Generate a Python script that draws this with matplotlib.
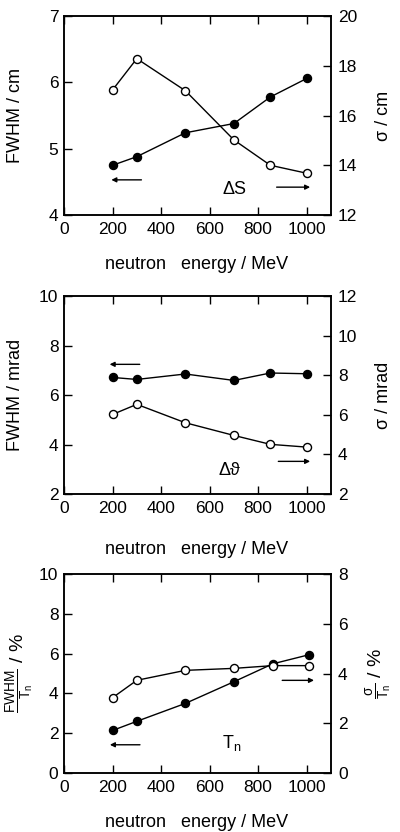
import matplotlib
matplotlib.use('Agg')
import matplotlib.pyplot as plt

plt.rcParams['font.family'] = ['Liberation Sans', 'DejaVu Sans']
plt.rcParams['mathtext.fontset'] = 'custom'
plt.rcParams['mathtext.rm'] = 'Liberation Sans'
plt.rcParams['mathtext.it'] = 'Liberation Sans'

# ---- data ----
energy = [200, 300, 500, 700, 850, 1000]
energy_tn = [200, 300, 500, 700, 860, 1010]

ds_fwhm = [4.75, 4.88, 5.24, 5.38, 5.78, 6.06]
ds_sigma = [17.03, 18.29, 17.0, 15.02, 14.0, 13.68]

dth_fwhm = [6.71, 6.63, 6.85, 6.59, 6.89, 6.86]
dth_sigma = [6.02, 6.53, 5.60, 4.96, 4.51, 4.37]

tn_fwhm = [2.14, 2.60, 3.50, 4.59, 5.49, 5.95]
tn_sigma = [3.03, 3.73, 4.13, 4.21, 4.32, 4.32]

x_ticks = [0, 200, 400, 600, 800, 1000]

FS = 12.5
LFS = 13

fig = plt.figure(figsize=(4.0, 8.32), dpi=100)

panels = [
    dict(rect=[0.16, 0.7416, 0.6675, 0.239], x=energy, fwhm=ds_fwhm, sig=ds_sigma,
         ylim=(4, 7), yticks=[4, 5, 6, 7], ylim2=(12, 20), yticks2=[12, 14, 16, 18, 20],
         ylab='FWHM / cm', ylab2='σ / cm', yfs=LFS, lx=-0.18, rx=1.195,
         name='ΔS', name_xy=(704, 4.38),
         larrow=((319, 4.53), (195, 4.53)), rarrow=((876, 4.42), (1014, 4.42)),
         xlab_y=-0.25),
    dict(rect=[0.16, 0.4062, 0.6675, 0.238], x=energy, fwhm=dth_fwhm, sig=dth_sigma,
         ylim=(2, 10), yticks=[2, 4, 6, 8, 10], ylim2=(2, 12), yticks2=[2, 4, 6, 8, 10, 12],
         ylab='FWHM / mrad', ylab2='σ / mrad', yfs=LFS, lx=-0.18, rx=1.195,
         name='Δϑ', name_xy=(680, 2.97),
         larrow=((312, 7.24), (188, 7.24)), rarrow=((883, 3.32), (1014, 3.32)),
         xlab_y=-0.28),
    dict(rect=[0.16, 0.0709, 0.6675, 0.239], x=energy_tn, fwhm=tn_fwhm, sig=tn_sigma,
         ylim=(0, 10), yticks=[0, 2, 4, 6, 8, 10], ylim2=(0, 8), yticks2=[0, 2, 4, 6, 8],
         ylab=r'$\frac{\mathrm{FWHM}}{\mathrm{T_n}}$ / %',
         ylab2=r'$\frac{\mathrm{\sigma}}{\mathrm{T_n}}$ / %', yfs=14, lx=-0.165, rx=1.18,
         name=r'$\mathrm{T_n}$', name_xy=(690, 1.5),
         larrow=((313, 1.42), (189, 1.42)), rarrow=((899, 4.66), (1030, 4.66)),
         xlab_y=-0.25),
]

for p in panels:
    ax = fig.add_axes(p['rect'])
    ax2 = ax.twinx()
    ax.set_xlim(0, 1100)
    ax.set_ylim(*p['ylim'])
    ax2.set_ylim(*p['ylim2'])
    ax.set_xticks(x_ticks)
    ax.set_yticks(p['yticks'])
    ax2.set_yticks(p['yticks2'])
    ax.tick_params(direction='in', length=6, width=1, top=True, labelsize=FS, pad=5)
    ax.tick_params(axis='y', pad=4)
    ax2.tick_params(direction='in', length=6, width=1, labelsize=FS, pad=5)
    for a in (ax, ax2):
        for s in a.spines.values():
            s.set_linewidth(1.1)

    ax.plot(p['x'], p['fwhm'], '-o', color='black', lw=1.0, ms=5.8,
            mfc='black', mec='black', zorder=3)
    ax2.plot(p['x'], p['sig'], '-o', color='black', lw=1.0, ms=5.8,
             mfc='white', mec='black', mew=1.0, zorder=3)

    ap = dict(arrowstyle='-|>', lw=1.0, color='black', mutation_scale=7,
              shrinkA=0, shrinkB=0)
    ax.annotate('', xy=p['larrow'][1], xytext=p['larrow'][0], arrowprops=ap)
    ax.annotate('', xy=p['rarrow'][1], xytext=p['rarrow'][0], arrowprops=ap)

    ax.text(p['name_xy'][0], p['name_xy'][1], p['name'], fontsize=LFS,
            ha='center', va='center')

    ax.text(p['lx'], 0.5, p['ylab'], transform=ax.transAxes, rotation=90,
            ha='center', va='center', fontsize=p['yfs'])
    ax.text(p['rx'], 0.5, p['ylab2'], transform=ax.transAxes, rotation=90,
            ha='center', va='center', fontsize=p['yfs'])
    ax.text(0.498, p['xlab_y'], 'neutron   energy / MeV', transform=ax.transAxes,
            ha='center', va='center', fontsize=LFS)

fig.savefig('out.png', dpi=100)
